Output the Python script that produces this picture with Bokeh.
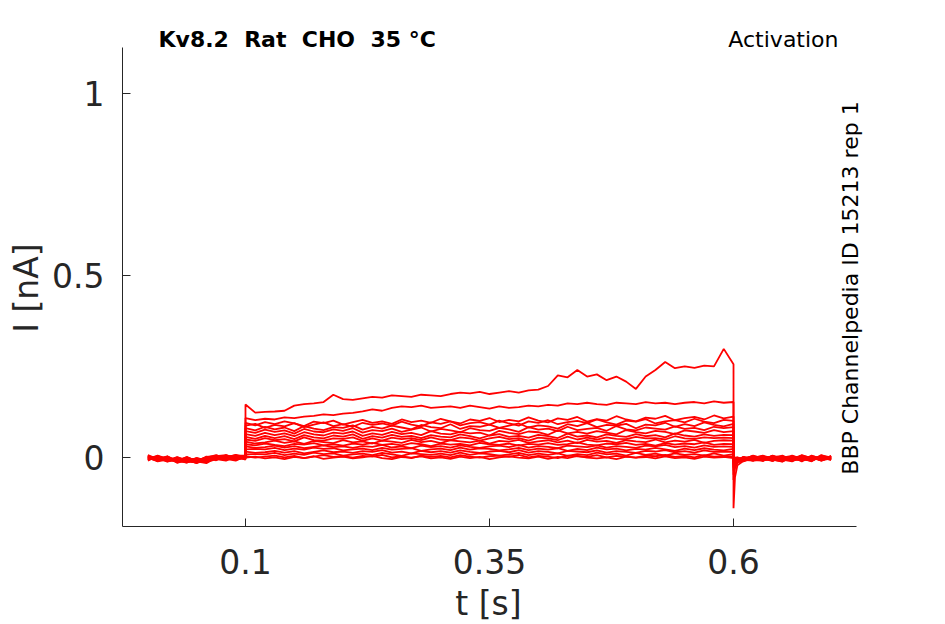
import numpy as np
from bokeh.plotting import figure
from bokeh.models import Range1d, FixedTicker, Label
from bokeh.embed import file_html
from bokeh.resources import INLINE

# ---- data (currents in pA) ----
TITLE = "Kv8.2 \u00a0Rat \u00a0CHO \u00a035 °C"
PROTOCOL = "Activation"
SOURCE = "BBP Channelpedia ID 15213 rep 1"
X_LABEL = "t [s]"
Y_LABEL = "I [nA]"
X_TICKS = [0.1, 0.35, 0.6]
X_TICK_LABELS = ["0.1", "0.35", "0.6"]
Y_TICKS = [0, 0.5, 1]
Y_TICK_LABELS = ["0", "0.5", "1"]
X_AXIS_SPAN = (-0.026, 0.726)
Y_AXIS_SPAN = (-0.19, 1.126)

T_PRE = [0.00, 0.01, 0.02, 0.03, 0.04, 0.05, 0.06, 0.07, 0.08, 0.09, 0.10]
T_STEP_START = 0.10
T_STEP_DT = 0.01
T_POST = [0.60, 0.6015, 0.604, 0.61, 0.62, 0.63, 0.64, 0.65, 0.66, 0.67, 0.68, 0.69, 0.70]

PRE = [
    [4, -10, -2, -14, -5, -12, -3, 2, -8, 5, 0],
    [-6, 3, -11, 0, -9, -15, -1, 6, -4, -9, 3],
    [1, -7, 2, -12, -13, -4, -10, 3, 6, -3, -4],
    [-9, 5, -4, -8, 1, -11, -16, 0, -7, 4, 5],
    [3, -2, -12, -5, -10, -2, -9, 4, -2, 7, -2],
    [-3, -8, 2, -15, -6, -10, -1, -8, 5, -5, 4],
    [6, -5, -8, 1, -9, -13, 2, -5, -9, 2, -6],
    [-7, 1, -3, -12, -1, -8, -14, 5, 1, 6, 2],
    [0, -11, -6, -7, -15, -2, -8, -1, 3, -6, -1],
    [-2, -4, 3, -10, -6, -16, -5, 2, -6, 4, 3],
    [5, -9, -1, -6, -11, -8, 0, -7, 6, -2, 1],
    [-5, 0, -9, -3, -13, -7, -11, 3, -3, 2, -3],
    [2, -6, -5, -11, 1, -12, -4, 0, 2, -7, 2],
    [-3, 4, -8, -6, -9, -3, -13, -5, 4, 0, 5],
    [0, -10, 0, -12, -7, -10, 1, 4, -7, 5, -1],
    [-6, -2, -6, -4, -12, -14, -6, -3, 2, -4, 0],
    [2, -4, -10, -8, -2, -9, -12, 1, -1, 2, 3],
]

STEP = [
    [145, 123, 125, 126, 128, 142, 146, 148, 152, 172, 160, 158, 162, 166, 164, 170, 168, 166, 172, 170,
     168, 174, 178, 176, 180, 174, 178, 182, 178, 184, 186, 196, 225, 220, 240, 222, 228, 212, 222, 208,
     188, 222, 240, 262, 245, 250, 246, 252, 250, 298, 256],
    [108, 102, 106, 104, 110, 108, 112, 114, 118, 116, 120, 122, 126, 132, 128, 136, 140, 138, 142, 136,
     138, 140, 136, 142, 138, 134, 140, 136, 138, 142, 140, 144, 142, 148, 146, 150, 146, 144, 150, 148,
     146, 152, 148, 150, 146, 150, 152, 148, 154, 150, 152],
    [95, 88, 97, 91, 99, 93, 86, 98, 94, 101, 90, 97, 103, 95, 99, 92, 104, 97, 101, 95,
     106, 99, 93, 104, 100, 108, 97, 103, 99, 110, 101, 96, 107, 103, 111, 98, 105, 101, 113, 104,
     99, 109, 106, 114, 102, 108, 111, 104, 115, 107, 112],
    [87, 92, 81, 89, 85, 94, 83, 90, 96, 86, 91, 84, 95, 89, 93, 87, 98, 90, 85, 96,
     92, 99, 88, 94, 97, 90, 101, 93, 87, 99, 95, 102, 91, 97, 100, 94, 104, 96, 90, 101,
     98, 105, 93, 99, 102, 96, 106, 98, 94, 103, 100],
    [80, 74, 84, 77, 82, 72, 86, 79, 75, 83, 81, 88, 76, 84, 79, 87, 82, 77, 89, 83,
     80, 91, 78, 86, 84, 90, 81, 87, 93, 82, 88, 85, 79, 91, 86, 94, 83, 89, 87, 92,
     80, 90, 88, 95, 84, 91, 86, 96, 89, 85, 92],
    [72, 67, 76, 70, 74, 65, 78, 71, 69, 77, 73, 80, 68, 75, 72, 79, 70, 76, 82, 71,
     78, 74, 69, 80, 75, 73, 81, 77, 70, 83, 76, 79, 72, 84, 75, 78, 81, 73, 86, 77,
     74, 82, 79, 76, 85, 78, 81, 75, 84, 80, 83],
    [64, 59, 67, 61, 66, 58, 69, 63, 60, 68, 65, 71, 59, 66, 62, 70, 64, 67, 61, 72,
     65, 63, 70, 66, 68, 60, 73, 67, 64, 71, 69, 62, 74, 66, 70, 65, 72, 68, 63, 75,
     69, 66, 73, 70, 64, 74, 71, 67, 75, 69, 72],
    [56, 51, 59, 53, 58, 50, 61, 55, 52, 60, 57, 63, 51, 58, 54, 62, 56, 59, 53, 61,
     57, 55, 63, 58, 52, 60, 64, 56, 59, 54, 62, 58, 53, 65, 57, 60, 55, 63, 59, 56,
     64, 58, 61, 55, 66, 60, 57, 63, 59, 62, 61],
    [49, 45, 53, 47, 50, 44, 55, 47, 46, 52, 51, 55, 45, 52, 46, 54, 50, 53, 47, 55,
     49, 47, 55, 52, 46, 52, 56, 50, 53, 46, 54, 52, 47, 57, 49, 54, 49, 55, 51, 50,
     56, 52, 53, 49, 58, 52, 51, 55, 53, 54, 53],
    [43, 38, 41, 46, 40, 44, 37, 45, 42, 39, 47, 41, 44, 38, 46, 43, 40, 48, 42, 45,
     39, 47, 44, 41, 46, 38, 45, 43, 48, 40, 44, 47, 41, 46, 39, 48, 43, 45, 40, 47,
     44, 42, 49, 41, 46, 43, 48, 40, 45, 47, 46],
    [36, 33, 38, 34, 31, 37, 35, 39, 33, 36, 32, 38, 35, 40, 34, 37, 33, 39, 36, 31,
     38, 35, 37, 33, 40, 36, 34, 38, 32, 37, 35, 39, 34, 36, 41, 35, 33, 38, 36, 40,
     34, 37, 32, 39, 35, 38, 36, 41, 34, 37, 36],
    [30, 26, 28, 32, 27, 31, 25, 29, 33, 28, 30, 26, 31, 29, 34, 27, 30, 25, 32, 28,
     31, 27, 33, 29, 26, 30, 32, 28, 34, 27, 31, 29, 25, 32, 30, 28, 33, 27, 31, 29,
     26, 32, 30, 34, 28, 31, 27, 33, 29, 30, 29],
    [22, 23, 22, 26, 20, 24, 21, 27, 23, 25, 19, 22, 24, 20, 26, 21, 23, 25, 18, 22,
     24, 20, 27, 21, 25, 23, 19, 22, 26, 20, 24, 21, 25, 18, 23, 20, 27, 22, 24, 19,
     23, 21, 26, 22, 18, 24, 20, 25, 21, 19, 23],
    [16, 12, 14, 18, 13, 17, 11, 15, 19, 14, 16, 12, 17, 15, 20, 13, 16, 11, 18, 14,
     17, 13, 19, 15, 12, 16, 18, 14, 20, 13, 17, 15, 11, 18, 16, 14, 19, 13, 17, 15,
     12, 18, 16, 20, 14, 17, 13, 19, 15, 16, 15],
    [8, 9, 8, 12, 6, 10, 7, 13, 9, 11, 5, 8, 10, 6, 12, 8, 4, 11, 9, 7,
     10, 6, 13, 7, 11, 9, 5, 8, 12, 6, 10, 7, 11, 4, 9, 6, 13, 8, 10, 5,
     12, 7, 10, 5, 11, 7, 9, 5, 11, 5, 9],
    [3, -1, 2, 5, 0, 4, -2, 2, 6, 1, 3, -1, 4, 2, 7, 0, 3, -2, 5, 1,
     4, 0, 6, 2, -1, 3, 5, 1, 7, 0, 4, 2, -2, 5, 3, 1, 6, 0, 4, 2,
     -1, 5, 3, 7, 1, 4, 0, 6, 2, 3, 2],
    [-1, 2, -3, 0, -5, 1, -2, 3, -4, -1, 2, -3, 0, 4, -2, -5, 1, -1, 3, -3,
     0, -4, 2, -2, 1, -5, 0, 3, -1, -3, 2, -4, 1, -2, 4, -1, -3, 0, -5, 2,
     -1, 1, -3, 3, -2, 0, -4, 2, -1, 1, -2],
]

POST = [
    [-140, -55, -22, -10, -2, 5, -8, 2, -9, 6, -3, -6, 3],
    [-62, -30, -16, -3, 3, -9, 4, -5, 1, -11, 3, -2, -6],
    [-48, -22, -12, -8, 5, -4, -10, 3, -6, 1, -8, 6, -3],
    [-36, -18, -9, 0, -8, 2, -6, -12, 5, -4, -1, -9, 1],
    [-30, -15, -14, -10, 1, -6, 4, -8, -2, -9, 5, -4, -1],
    [-26, -12, -5, -2, -9, 4, -2, -6, -11, 3, -6, 2, -4],
    [-22, -11, -10, -7, 2, -8, -4, 5, -7, -1, -10, 3, -7],
    [-19, -9, -4, -11, -3, 1, -9, -1, 4, -6, 2, -8, 4],
    [-16, -8, -8, 1, -6, -10, 3, -7, -3, 5, -4, 0, -5],
    [-13, -6, -3, -9, 3, -1, -8, 1, -9, -2, -11, 5, 0],
    [-11, -5, -9, -2, -9, -7, 5, -5, 2, -8, 3, -6, -2],
    [-9, -7, -2, -10, -1, 3, -6, -11, 0, 2, -4, -1, 2],
    [-7, -4, -8, 0, -7, -3, 1, 3, -9, -4, 0, -8, -3],
    [-6, -2, -1, -5, 4, -9, -3, -7, 3, -6, -9, 2, 0],
    [-5, -6, -7, 1, -4, -1, -10, 0, -5, 4, -1, -3, -6],
    [-4, -1, 0, -7, -9, 2, -2, -5, -3, -8, 2, -9, 2],
    [-3, -5, -6, -3, 0, -5, 3, -9, -1, 0, -6, -1, -4],
]

# ---- layout geometry (pixels, canvas top-left origin) ----
W, H = 929, 624
AX_LEFT, AX_RIGHT = 122, 856     # bottom axis line extent
AX_TOP, AX_BOTTOM = 47, 526      # left axis line extent
sx = (AX_RIGHT - AX_LEFT) / (X_AXIS_SPAN[1] - X_AXIS_SPAN[0])
sy = (AX_BOTTOM - AX_TOP) / (Y_AXIS_SPAN[1] - Y_AXIS_SPAN[0])
x_start = X_AXIS_SPAN[0] - AX_LEFT / sx
x_end = X_AXIS_SPAN[0] + (W - AX_LEFT) / sx
y_start = Y_AXIS_SPAN[0] - (H - AX_BOTTOM) / sy
y_end = Y_AXIS_SPAN[0] + AX_BOTTOM / sy

p = figure(width=W, height=H,
           x_range=Range1d(x_start, x_end), y_range=Range1d(y_start, y_end),
           output_backend="svg", toolbar_location=None,
           min_border_left=0, min_border_right=0,
           min_border_top=0, min_border_bottom=0)
p.outline_line_color = None
p.xgrid.visible = False
p.ygrid.visible = False
p.background_fill_color = "white"
p.border_fill_color = "white"

xs, ys = [], []
for pre, step, post in zip(PRE, STEP, POST):
    t_step = list(T_STEP_START + T_STEP_DT * np.arange(len(step)))
    xs.append(list(T_PRE) + t_step + list(T_POST))
    ys.append(list(np.array(pre + step + post) / 1000.0))
p.multi_line(xs, ys, line_color="#ff0000", line_width=1.8)

AX = "#262626"
for ax in (p.xaxis[0], p.yaxis[0]):
    ax.axis_line_color = AX
    ax.major_tick_line_color = AX
    ax.major_tick_in = 8
    ax.major_tick_out = 0
    ax.minor_tick_line_color = None
    ax.major_label_text_color = AX
    ax.major_label_text_font = "DejaVu Sans"
    ax.major_label_text_font_size = "33px"

p.xaxis.fixed_location = Y_AXIS_SPAN[0]
p.yaxis.fixed_location = X_AXIS_SPAN[0]
p.xaxis.bounds = X_AXIS_SPAN
p.yaxis.bounds = Y_AXIS_SPAN
p.xaxis.ticker = FixedTicker(ticks=X_TICKS)
p.xaxis.major_label_overrides = dict(zip(X_TICKS, X_TICK_LABELS))
p.yaxis.ticker = FixedTicker(ticks=Y_TICKS)
p.yaxis.major_label_overrides = dict(zip(Y_TICKS, Y_TICK_LABELS))
p.xaxis.major_label_standoff = 22
p.yaxis.major_label_standoff = 18

# texts placed in screen pixels; (x, y) measured from the canvas top-left,
# the renderer puts the glyph baseline ~0.36 em beyond the anchor, so the
# anchor is pulled back by that amount.
def add_text(text, x, y, size, align="left", bold=False, vertical=False, color="black"):
    shift = 0.36 * size
    if vertical:
        x, angle = x - shift, np.pi / 2
    else:
        y, angle = y - shift, 0.0
    p.add_layout(Label(x=x, y=H - y, x_units="screen", y_units="screen", text=text,
                       angle=angle, text_font="DejaVu Sans",
                       text_font_style="bold" if bold else "normal",
                       text_font_size=f"{size}px", text_color=color,
                       text_baseline="alphabetic", text_align=align))

add_text(TITLE, 158, 47, 22, bold=True)
add_text(PROTOCOL, 838, 47, 22, align="right")
add_text(SOURCE, 858, 287.5, 22, align="center", vertical=True)
add_text(X_LABEL, 488, 615, 33, align="center", color=AX)
add_text(Y_LABEL, 38, 287.5, 33, align="center", vertical=True, color=AX)

open("out.html", "w").write(file_html(p, INLINE))
